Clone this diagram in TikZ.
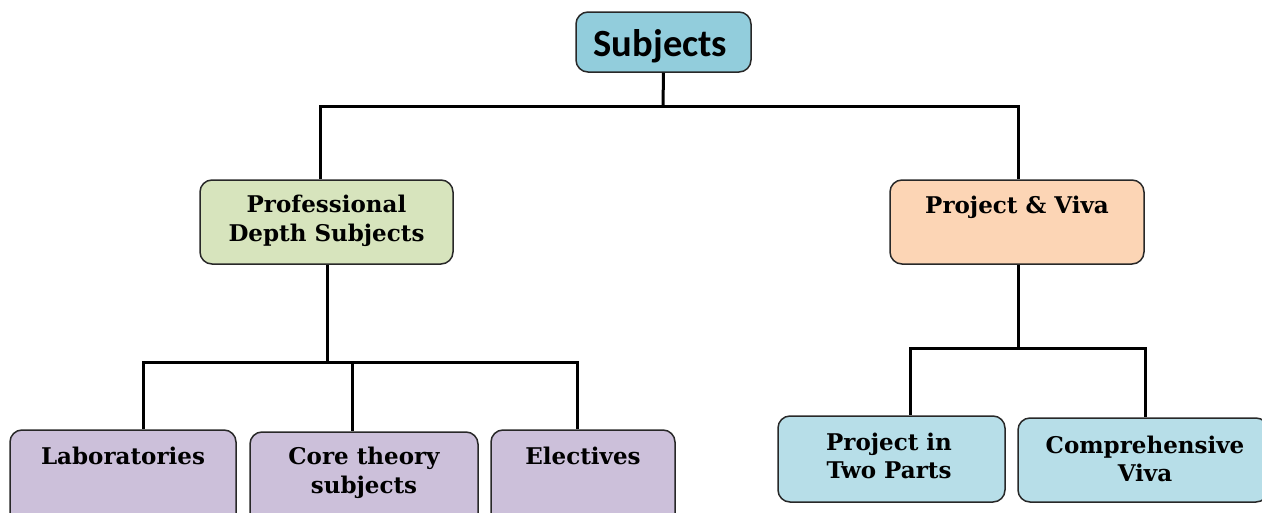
\documentclass[tikz,border=0pt]{standalone}
\usepackage{fontspec}
\newfontfamily\calfont{Carlito}
\newfontfamily\serfont{DejaVu Serif}
\definecolor{cTop}{RGB}{146,205,220}
\definecolor{cGreen}{RGB}{215,228,189}
\definecolor{cPeach}{RGB}{252,213,181}
\definecolor{cLav}{RGB}{204,192,218}
\definecolor{cBlue}{RGB}{183,222,232}
\definecolor{cEdge}{RGB}{40,40,40}
\tikzset{
  box/.style={draw=cEdge, line width=1.5pt, rounded corners=12pt, rectangle, inner sep=0pt},
  lbl/.style={font=\serfont\bfseries\fontsize{23}{28.5}\selectfont, align=center, inner sep=0pt},
  conn/.style={line width=3pt, black}
}
\begin{document}
\begin{tikzpicture}[x=1pt,y=-1pt]
\useasboundingbox (0,0) rectangle (1262,512);
\clip (0,0) rectangle (1262,512);
% boxes
\node[box, fill=cTop, minimum width=175pt, minimum height=60pt] (subj) at (663.5,42) {};
\node[font=\calfont\bfseries\fontsize{38.5}{42}\selectfont, inner sep=0pt] (subjt) at (660.5,46) {Subjects};
\node[box, fill=cGreen, minimum width=253pt, minimum height=84pt] (pds) at (326.5,222) {};
\node[lbl] (pdst) at (326.5,221) {Professional\\Depth Subjects};
\node[box, fill=cPeach, minimum width=254pt, minimum height=84pt] (pv) at (1017,222) {};
\node[lbl] (pvt) at (1017,207) {Project \& Viva};
\node[box, fill=cLav, minimum width=226pt, minimum height=120pt] (lab) at (123,490) {};
\node[lbl] (labt) at (123,456) {Laboratories};
\node[box, fill=cLav, minimum width=228pt, minimum height=120pt] (core) at (364,492) {};
\node[lbl] (coret) at (364,473) {Core theory\\subjects};
\node[box, fill=cLav, minimum width=184pt, minimum height=120pt] (elec) at (583,490) {};
\node[lbl] (elect) at (583,456) {Electives};
\node[box, fill=cBlue, minimum width=227pt, minimum height=86pt] (proj) at (891.5,459) {};
\node[lbl] (projt) at (889,456) {Project in\\Two Parts};
\node[box, fill=cBlue, minimum width=250pt, minimum height=84pt] (comp) at (1143,460) {};
\node[lbl] (compt) at (1145,459) {Comprehensive\\Viva};
% connectors
\coordinate (j1) at (663,106);
\coordinate (b1l) at (320,106);
\coordinate (b1r) at (1018,106);
\draw[conn] (subj.south) -- (j1);
\draw[conn, line cap=rect] (b1l) -- (b1r);
\draw[conn] (b1l) -- (b1l |- pds.north);
\draw[conn] (b1r) -- (b1r |- pv.north);
\coordinate (j2) at (327,362);
\coordinate (b2l) at (143,362);
\coordinate (b2m) at (352,362);
\coordinate (b2r) at (577,362);
\draw[conn] (pds.south -| j2) -- (j2);
\draw[conn, line cap=rect] (b2l) -- (b2r);
\draw[conn] (b2l) -- (b2l |- lab.north);
\draw[conn] (b2m) -- (b2m |- core.north);
\draw[conn] (b2r) -- (b2r |- elec.north);
\coordinate (j3) at (1018,348);
\coordinate (b3l) at (910,348);
\coordinate (b3r) at (1145,348);
\draw[conn] (pv.south -| j3) -- (j3);
\draw[conn, line cap=rect] (b3l) -- (b3r);
\draw[conn] (b3l) -- (b3l |- proj.north);
\draw[conn] (b3r) -- (b3r |- comp.north);
\end{tikzpicture}
\end{document}
